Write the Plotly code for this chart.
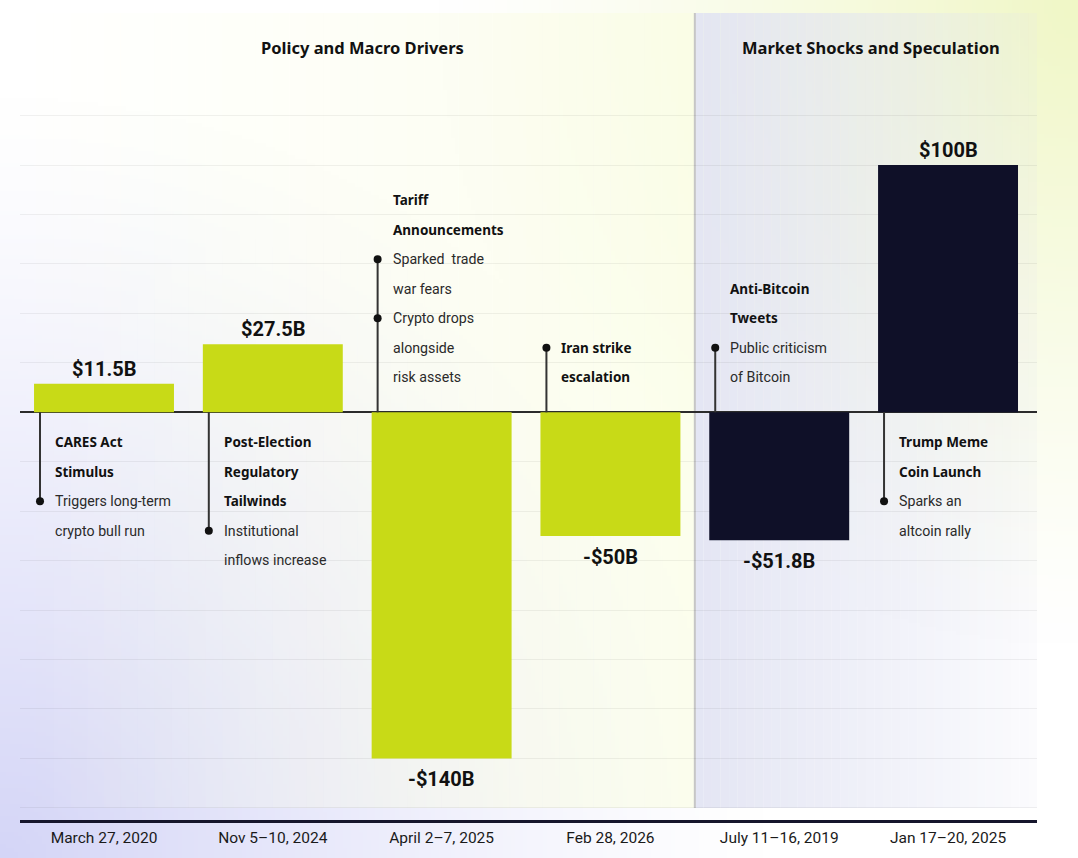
import base64
import struct
import zlib

import numpy as np
import plotly.graph_objects as go

# ---- data ----
categories = ["March 27, 2020", "Nov 5–10, 2024", "April 2–7, 2025",
              "Feb 28, 2026", "July 11–16, 2019", "Jan 17–20, 2025"]
values = [11.5, 27.5, -140, -50, -51.8, 100]
value_labels = ["$11.5B", "$27.5B", "-$140B", "-$50B", "-$51.8B", "$100B"]
groups = ["Policy and Macro Drivers"] * 4 + ["Market Shocks and Speculation"] * 2
group_colors = {"Policy and Macro Drivers": "#C8DA17",
                "Market Shocks and Speculation": "#0F1028"}

note_titles = [["CARES Act", "Stimulus"],
               ["Post-Election", "Regulatory", "Tailwinds"],
               ["Tariff", "Announcements"],
               ["Iran strike", "escalation"],
               ["Anti-Bitcoin", "Tweets"],
               ["Trump Meme", "Coin Launch"]]
note_bullets = [[["Triggers long-term", "crypto bull run"]],
                [["Institutional", "inflows increase"]],
                [["Sparked  trade", "war fears"], ["Crypto drops", "alongside", "risk assets"]],
                [],
                [["Public criticism", "of Bitcoin"]],
                [["Sparks an", "altcoin rally"]]]

gridvals = list(range(-160, 121, 20))

# ---- page geometry ----
W, H = 1078, 858
L, R, T, B = 19.6, 1037, 13, 820
X_RANGE = [-0.5, 5.527]
Y_RANGE = [-164.9, 161.5]


def png_uri(arr):
    h, w, _ = arr.shape
    raw = b"".join(b"\x00" + arr[r].tobytes() for r in range(h))

    def chunk(tag, data):
        c = struct.pack(">I", len(data)) + tag + data
        return c + struct.pack(">I", zlib.crc32(tag + data) & 0xFFFFFFFF)

    png = (b"\x89PNG\r\n\x1a\n"
           + chunk(b"IHDR", struct.pack(">IIBBBBB", w, h, 8, 2, 0, 0, 0))
           + chunk(b"IDAT", zlib.compress(raw, 9))
           + chunk(b"IEND", b""))
    return "data:image/png;base64," + base64.b64encode(png).decode()


# soft page background: lavender glow bottom-left, lime glow top-right
s = 4
gx, gy = np.meshgrid(np.arange(W // s) * s, np.arange(H // s) * s)
w_lav = np.clip(1 - np.hypot(gx, H - gy) / 760, 0, 1) ** 1.25
w_yel = np.clip(1 - np.hypot(W - gx, gy) / 640, 0, 1) ** 1.2
white = np.array([255, 255, 255.0])
lav = np.array([212, 213, 247.0])
yel = np.array([240, 247, 198.0])
img = (white * (1 - w_lav - w_yel)[..., None] + lav * w_lav[..., None] + yel * w_yel[..., None])
bg_uri = png_uri(np.clip(img, 0, 255).astype(np.uint8))

xs = list(range(len(categories)))

fig = go.Figure()
fig.add_trace(go.Bar(
    x=xs, y=values, width=0.829,
    marker=dict(color=[group_colors[g] for g in groups], line=dict(width=0)),
    hoverinfo="skip",
))

shapes = []
annotations = []

# value labels
for i, (v, lab) in enumerate(zip(values, value_labels)):
    annotations.append(dict(x=i, y=v, xref="x", yref="y", text=f"<b>{lab}</b>",
                            showarrow=False, xanchor="center", yanchor="middle",
                            yshift=15 if v > 0 else -21,
                            font=dict(family="Roboto", size=20, color="#111111")))

# section shading (gradient strips) + headers
group_names = list(dict.fromkeys(groups))
n_strips = 40
for gi, g in enumerate(group_names):
    idx = [i for i, gg in enumerate(groups) if gg == g]
    x0 = idx[0] - 0.5
    x1 = X_RANGE[1] if idx[-1] == len(groups) - 1 else idx[-1] + 0.5
    for k in range(n_strips):
        a0 = x0 + (x1 - x0) * k / n_strips
        a1 = x0 + (x1 - x0) * (k + 1) / n_strips
        t = (k + 0.5) / n_strips
        if gi == 0:
            col = f"rgba(250,253,226,{0.62 * t:.3f})"
        else:
            col = f"rgba(224,226,242,{0.88 - 0.75 * t:.3f})"
        shapes.append(dict(type="rect", xref="x", yref="y", x0=a0, x1=a1,
                           y0=gridvals[0], y1=Y_RANGE[1], fillcolor=col,
                           line=dict(width=0), layer="below"))
    annotations.append(dict(x=(x0 + x1) / 2, y=1 - 48 / H, xref="x", yref="paper",
                            xanchor="center", yanchor="middle", xshift=5,
                            text=f"<b>{g}</b>", showarrow=False,
                            font=dict(family="Noto Sans", size=16.5, color="#111111")))
    if gi > 0:
        shapes.append(dict(type="line", xref="x", yref="y", x0=x0, x1=x0,
                           y0=gridvals[0], y1=Y_RANGE[1],
                           line=dict(color="#C6C6C6", width=2), layer="below"))

# event notes with connector and dots
LINE_GAP = 29.5
for i, v in enumerate(values):
    lines = [(t, True) for t in note_titles[i]]
    dot_rows = []
    for b in note_bullets[i]:
        dot_rows.append(len(lines))
        lines += [(t, False) for t in b]
    if not dot_rows:
        dot_rows = [0]
    n = len(lines)
    if v > 0:
        offs = [-(30 + LINE_GAP * k) for k in range(n)]
    else:
        offs = [35 + LINE_GAP * (n - 1 - k) for k in range(n)]
    for (txt, bold), off in zip(lines, offs):
        annotations.append(dict(
            x=i, y=0, xref="x", yref="y", xshift=-51, yshift=off,
            xanchor="left", yanchor="middle", showarrow=False,
            text=f"<b>{txt}</b>" if bold else txt,
            font=dict(family="Noto Sans" if bold else "Roboto",
                      size=13.5 if bold else 14.2,
                      color="#111111" if bold else "#2a2a2a")))
    far = max((offs[r] for r in dot_rows), key=abs)
    shapes.append(dict(type="line", xref="x", yref="y", xsizemode="pixel", ysizemode="pixel",
                       xanchor=i, yanchor=0, x0=-64, x1=-64, y0=0, y1=far,
                       line=dict(color="#333333", width=2), layer="above"))
    for r in dot_rows:
        shapes.append(dict(type="circle", xref="x", yref="y", xsizemode="pixel", ysizemode="pixel",
                           xanchor=i, yanchor=0, x0=-68, x1=-60,
                           y0=offs[r] - 4, y1=offs[r] + 4,
                           fillcolor="#111111", line=dict(width=0), layer="above"))

fig.update_layout(
    width=W, height=H,
    margin=dict(l=0, r=0, t=0, b=0),
    paper_bgcolor="white", plot_bgcolor="rgba(0,0,0,0)",
    showlegend=False,
    shapes=shapes, annotations=annotations,
    images=[dict(source=bg_uri, xref="paper", yref="paper", x=0, y=1,
                 sizex=1, sizey=1, xanchor="left", yanchor="top",
                 sizing="stretch", layer="below")],
    xaxis=dict(domain=[L / W, R / W], range=X_RANGE,
               tickvals=xs, ticktext=categories, showgrid=False, zeroline=False,
               showline=True, linewidth=3, linecolor="#16162C",
               tickfont=dict(family="Roboto", size=15.5, color="#1a1a1a"),
               ticklabelstandoff=1, fixedrange=True),
    yaxis=dict(domain=[1 - B / H, 1 - T / H], range=Y_RANGE,
               tickvals=gridvals, showticklabels=False,
               showgrid=True, gridcolor="rgba(0,0,0,0.055)", gridwidth=1,
               zeroline=True, zerolinecolor="#2b2b2b", zerolinewidth=1.5,
               fixedrange=True),
)

fig.write_html("out.html", config={"displayModeBar": False},
               post_script="document.body.style.margin='0px';")
